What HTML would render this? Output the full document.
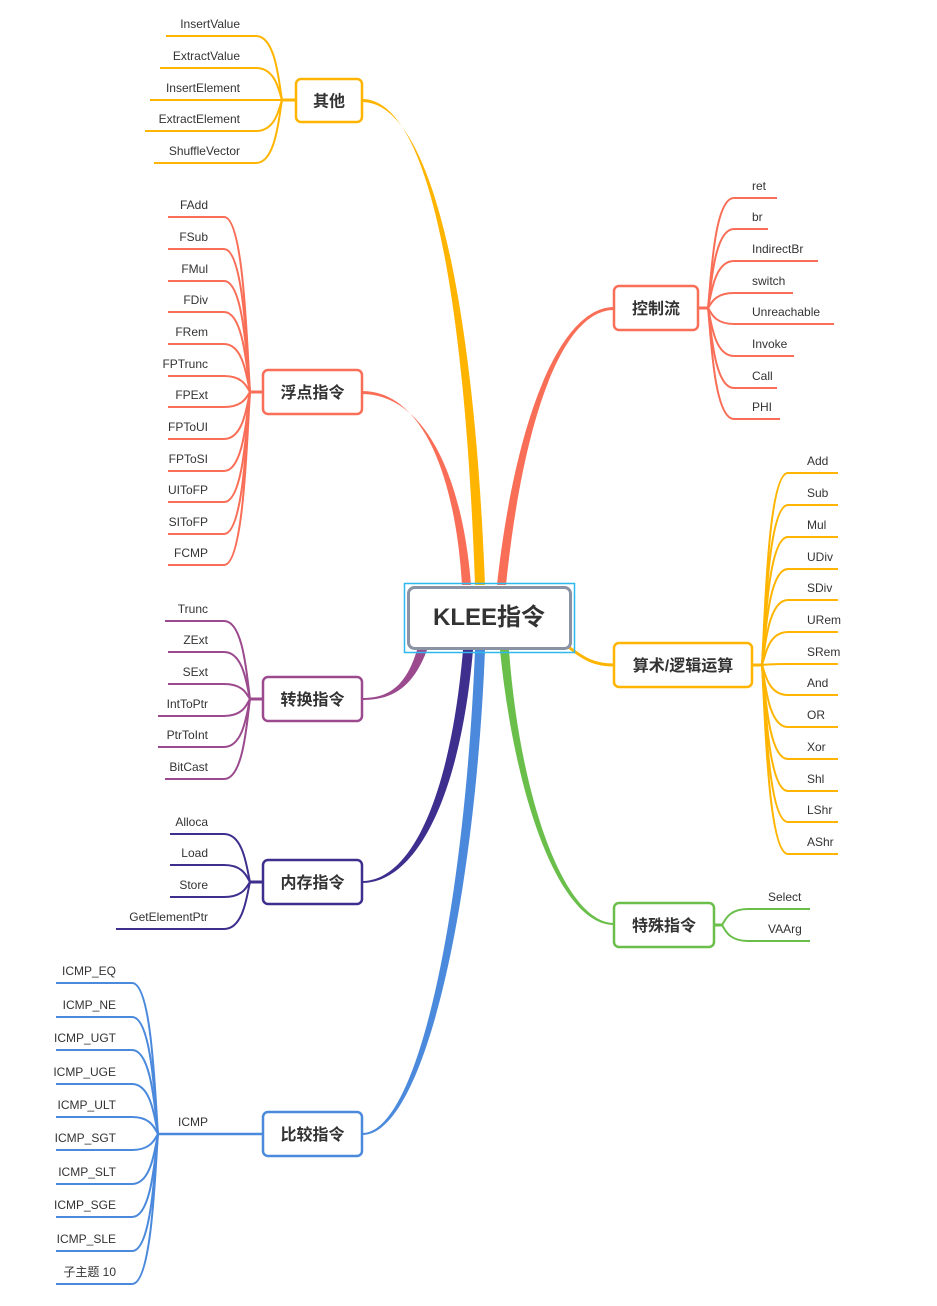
<!DOCTYPE html>
<html><head><meta charset="utf-8"><style>
html,body{margin:0;padding:0;background:#fff;}
svg{display:block;}
text{font-family:"Liberation Sans","Noto Sans CJK SC",sans-serif;}
</style></head><body>
<svg id="s" width="937" height="1306" viewBox="0 0 937 1306" xmlns="http://www.w3.org/2000/svg">
<path d="M362,99 C430,99 465,300 475,585 L485,585 C474,300 432,102 362,102 Z" fill="#FFB400"/>
<path d="M362,391 C420,391 455,470 462,585 L471,585 C462,470 422,394 362,394 Z" fill="#F96E57"/>
<path d="M614,307 C560,307 515,420 497,585 L506,585 C523,420 562,310 614,310 Z" fill="#F96E57"/>
<path d="M566,645 C585,660 595,665 614,665" stroke="#FFB400" stroke-width="3" fill="none"/>
<path d="M500,650 C515,800 560,925 614,925 L614,923 C565,923 520,800 509,650 Z" fill="#6ABF4B"/>
<path d="M417,650 C405,690 385,698 362,698 L362,700 C390,700 412,690 427,650 Z" fill="#9B4A8D"/>
<path d="M463,650 C450,800 410,881 362,881 L362,883 C415,883 460,800 473,650 Z" fill="#3E2F8E"/>
<path d="M475,650 C465,900 420,1133 362,1133 L362,1135 C425,1135 475,900 485,650 Z" fill="#4A89DC"/>
<rect x="404.5" y="583.5" width="170" height="69" fill="none" stroke="#2EB8F0" stroke-width="1.5"/>
<rect x="408.5" y="587.5" width="162" height="61" rx="6" fill="#fff" stroke="#8A93A3" stroke-width="3"/>
<text x="489" y="625" font-size="24" font-weight="bold" fill="#333" text-anchor="middle">KLEE指令</text>
<g id="g"></g>
</svg>
<script>
var g=document.getElementById('g'),h='';
function node(x,y,w,hh,c,t){h+='<rect x="'+x+'" y="'+y+'" width="'+w+'" height="'+hh+'" rx="5" fill="#fff" stroke="'+c+'" stroke-width="2.5"/>';
h+='<text x="'+(x+w/2)+'" y="'+(y+hh/2+6)+'" font-size="16" font-weight="bold" fill="#333" text-anchor="middle">'+t+'</text>';}
function cv(hx,hy,uy,d,end){ // d = -1 left, +1 right
 var k=hy+(uy-hy)*0.25;
 return 'M'+hx+','+hy+' C'+(hx+d*3)+','+k+' '+(hx+d*6)+','+uy+' '+(hx+d*26)+','+uy+' L'+end+','+uy;}
function left(hx,hy,nx,c,tr,items){
 h+='<path d="M'+nx+','+hy+' L'+hx+','+hy+'" stroke="'+c+'" stroke-width="3" fill="none"/>';
 items.forEach(function(it){var uy=it[1]+12;
  h+='<path d="'+cv(hx,hy,uy,-1,it[2])+'" stroke="'+c+'" stroke-width="2" fill="none"/>';
  h+='<text x="'+tr+'" y="'+(it[1]+4)+'" font-size="12" fill="#333" text-anchor="end">'+it[0]+'</text>';});}
function right(hx,hy,nx,c,tl,items){
 h+='<path d="M'+nx+','+hy+' L'+hx+','+hy+'" stroke="'+c+'" stroke-width="3" fill="none"/>';
 items.forEach(function(it){var uy=it[1]+12;
  h+='<path d="'+cv(hx,hy,uy,1,it[2])+'" stroke="'+c+'" stroke-width="2" fill="none"/>';
  h+='<text x="'+tl+'" y="'+(it[1]+4)+'" font-size="12" fill="#333">'+it[0]+'</text>';});}
var Y='#FFB400',R='#F96E57',P='#9B4A8D',D='#3E2F8E',B='#4A89DC',G='#6ABF4B';
left(282,100,296,Y,240,[['InsertValue',24,166],['ExtractValue',56,160],['InsertElement',88,150],['ExtractElement',119,145],['ShuffleVector',151,154]]);
var f=[['FAdd',205],['FSub',237],['FMul',269],['FDiv',300],['FRem',332],['FPTrunc',364],['FPExt',395],['FPToUI',427],['FPToSI',459],['UIToFP',490],['SIToFP',522],['FCMP',553]];
left(250,392,263,R,208,f.map(function(a){return [a[0],a[1],168];}));
left(250,699,263,P,208,[['Trunc',609,165],['ZExt',640,168],['SExt',672,168],['IntToPtr',704,158],['PtrToInt',735,158],['BitCast',767,165]]);
left(250,882,263,D,208,[['Alloca',822,170],['Load',853,170],['Store',885,170],['GetElementPtr',917,116]]);
h+='<path d="M263,1134 L158,1134" stroke="'+B+'" stroke-width="2.5" fill="none"/>';
h+='<text x="208" y="1126" font-size="12" fill="#333" text-anchor="end">ICMP</text>';
var c=[['ICMP_EQ',971],['ICMP_NE',1005],['ICMP_UGT',1038],['ICMP_UGE',1072],['ICMP_ULT',1105],['ICMP_SGT',1138],['ICMP_SLT',1172],['ICMP_SGE',1205],['ICMP_SLE',1239],['子主题 10',1272]];
c.forEach(function(it){var uy=it[1]+12;
 h+='<path d="'+cv(158,1134,uy,-1,56)+'" stroke="'+B+'" stroke-width="2" fill="none"/>';
 h+='<text x="116" y="'+(it[1]+4)+'" font-size="12" fill="#333" text-anchor="end">'+it[0]+'</text>';});
right(708,308,698,R,752,[['ret',186,777],['br',217,768],['IndirectBr',249,818],['switch',281,793],['Unreachable',312,834],['Invoke',344,794],['Call',376,777],['PHI',407,780]]);
var a=[['Add',461],['Sub',493],['Mul',525],['UDiv',557],['SDiv',588],['URem',620],['SRem',652],['And',683],['OR',715],['Xor',747],['Shl',779],['LShr',810],['AShr',842]];
right(762,665,752,Y,807,a.map(function(x){return [x[0],x[1],838];}));
right(722,925,714,G,768,[['Select',897,810],['VAArg',929,810]]);
node(296,79,66,43,Y,'其他');
node(263,370,99,44,R,'浮点指令');
node(263,677,99,44,P,'转换指令');
node(263,860,99,44,D,'内存指令');
node(263,1112,99,44,B,'比较指令');
node(614,286,84,44,R,'控制流');
node(614,643,138,44,Y,'算术/逻辑运算');
node(614,903,100,44,G,'特殊指令');
g.innerHTML=h;
</script>
</body></html>
